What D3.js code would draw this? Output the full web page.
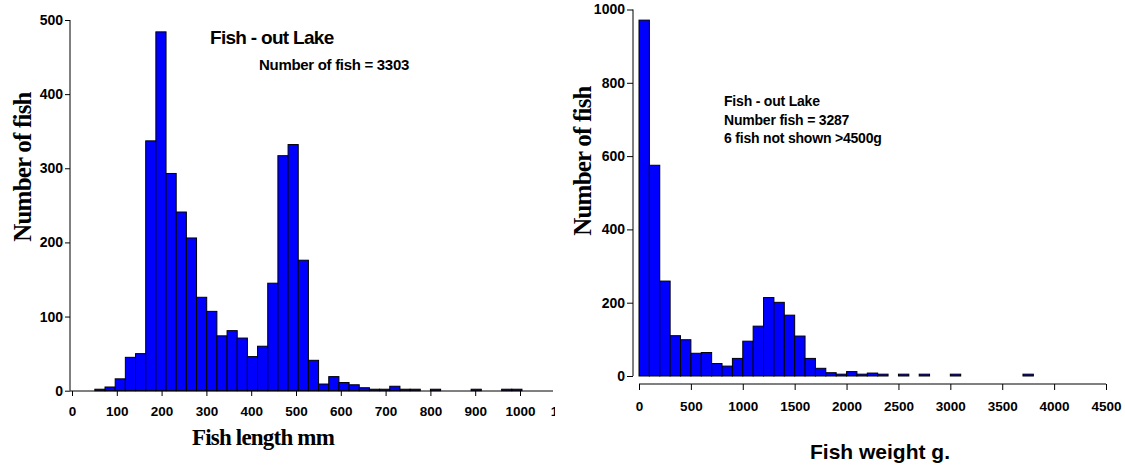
<!DOCTYPE html>
<html>
<head>
<meta charset="utf-8">
<script src="https://cdnjs.cloudflare.com/ajax/libs/d3/7.8.5/d3.min.js"></script>
<style>
  body { margin: 0; background: #fff; }
  text { font-family: "Liberation Sans", Arial, sans-serif; font-weight: bold; fill: #000; }
  .serif { font-family: "Liberation Serif", "Times New Roman", serif; }
</style>
</head>
<body>
<div id="chart"></div>
<script>
// Fish length histogram (mm)
var lengthBinStart = 51;
var lengthBinWidth = 22.7;
var lengthCounts = [2, 5, 16, 45, 50, 337, 484, 293, 241, 206, 126, 107, 74, 81, 71, 46, 60, 145, 317, 332,
                    176, 41, 9, 19, 11, 8, 4, 2, 2, 6, 2, 2, 0, 2, 0, 0, 0, 2, 0, 0, 2, 2];
var lengthTicks = [0, 100, 200, 300, 400, 500, 600, 700, 800, 900, 1000, 1100];
var lengthCountTicks = [0, 100, 200, 300, 400, 500];

// Fish weight histogram (g)
var weightBinStart = 0;
var weightBinWidth = 100;
var weightCounts = [971, 575, 259, 110, 99, 62, 64, 34, 27, 48, 95, 136, 214, 201, 166, 109, 48, 21, 9, 5,
                    12, 5, 8, 5, 0, 5, 0, 5, 0, 0, 5, 0, 0, 0, 0, 0, 0, 5];
var weightTicks = [0, 500, 1000, 1500, 2000, 2500, 3000, 3500, 4000, 4500];
var weightCountTicks = [0, 200, 400, 600, 800, 1000];

var Histogram = function(svg, cfg)
{
  this.svg = svg;
  this.cfg = cfg;
  this.g = svg.append("g");
  if(cfg.clipRight)
  {
    var id = "clip" + cfg.name;
    svg.append("clipPath").attr("id", id)
       .append("rect").attr("x", 0).attr("y", 0).attr("width", cfg.clipRight).attr("height", 465);
    this.g.attr("clip-path", "url(#" + id + ")");
  }
  this.x = d3.scaleLinear().domain(cfg.xDomain).range(cfg.xRange);
  this.y = d3.scaleLinear().domain(cfg.yDomain).range(cfg.yRange);
};

Histogram.prototype.drawBars = function()
{
  var self = this;
  var cfg = this.cfg;
  var bins = cfg.counts.map(function (c, i) {
    return { x0: cfg.binStart + i * cfg.binWidth, x1: cfg.binStart + (i + 1) * cfg.binWidth, count: c };
  }).filter(function (b) { return b.count > 0; });

  this.g.selectAll("rect.bar")
        .data(bins)
        .enter().append("rect")
        .attr("class", "bar")
        .attr("x", function (b) { return self.x(b.x0); })
        .attr("width", function (b) { return self.x(b.x1) - self.x(b.x0); })
        .attr("y", function (b) { return self.y(b.count); })
        .attr("height", function (b) { return self.y(0) - self.y(b.count); })
        .attr("fill", "#0000ff")
        .attr("stroke", "#000")
        .attr("stroke-width", 1);
}

Histogram.prototype.drawAxes = function()
{
  var cfg = this.cfg;
  var fmt = d3.format("d");

  // y axis
  var yg = this.g.append("g").attr("transform", "translate(" + cfg.yAxisX + ",0)");
  yg.call(d3.axisLeft(this.y).tickValues(cfg.yMinor).tickSize(3).tickFormat(""));
  yg.call(d3.axisLeft(this.y).tickValues(cfg.yTicks).tickSize(cfg.yTickSize).tickPadding(2).tickFormat(fmt));
  yg.selectAll(".domain").remove();
  yg.selectAll("text").style("font-size", cfg.yFont + "px");
  yg.append("line")
    .attr("x1", 0).attr("x2", 0)
    .attr("y1", this.y(cfg.yDomain[1])).attr("y2", this.y(0))
    .attr("stroke", "#000");

  // x axis
  var xg = this.g.append("g").attr("transform", "translate(0," + cfg.xAxisY + ")");
  xg.call(d3.axisBottom(this.x).tickValues(cfg.xMinor).tickSize(cfg.xMinorSize).tickFormat(""));
  xg.call(d3.axisBottom(this.x).tickValues(cfg.xTicks).tickSize(cfg.xTickSize).tickPadding(cfg.xPad).tickFormat(fmt));
  xg.selectAll(".domain").remove();
  xg.selectAll("text").style("font-size", "13.5px");
  xg.append("line")
    .attr("x1", cfg.xLineStart).attr("x2", cfg.xLineEnd)
    .attr("y1", 0).attr("y2", 0)
    .attr("stroke", "#000");

  this.g.selectAll(".tick line").attr("stroke", "#000");
}

Histogram.prototype.drawLabels = function()
{
  var self = this;
  var cfg = this.cfg;
  var yt = cfg.yTitle;
  this.svg.append("text")
          .attr("class", yt.cls)
          .attr("transform", "translate(" + yt.x + "," + yt.y + ") rotate(-90)")
          .attr("text-anchor", "middle")
          .style("font-size", yt.size + "px")
          .style("letter-spacing", yt.spacing + "px")
          .text(yt.text);

  var xt = cfg.xTitle;
  this.svg.append("text")
          .attr("class", xt.cls)
          .attr("x", xt.x).attr("y", xt.y)
          .attr("text-anchor", "middle")
          .style("font-size", xt.size + "px")
          .style("letter-spacing", xt.spacing + "px")
          .text(xt.text);

  cfg.notes.forEach(function (n) {
    self.svg.append("text")
            .attr("x", n.x).attr("y", n.y)
            .style("font-size", n.size + "px")
            .style("letter-spacing", n.spacing + "px")
            .text(n.text);
  });
}

var svg = d3.select("#chart").append("svg")
            .attr("width", 1125)
            .attr("height", 465);

var lengthChart = new Histogram(svg, {
  name: "Length",
  clipRight: 555,
  counts: lengthCounts,
  binStart: lengthBinStart,
  binWidth: lengthBinWidth,
  xDomain: [0, 1000], xRange: [72, 520],
  yDomain: [0, 500], yRange: [390.7, 20],
  yAxisX: 70, yTicks: lengthCountTicks, yMinor: d3.range(0, 501, 25), yTickSize: 5, yFont: 14,
  xAxisY: 391, xTicks: lengthTicks, xMinor: d3.range(0, 1101, 50), xTickSize: 5, xMinorSize: 3, xPad: 10,
  xLineStart: 70, xLineEnd: 553,
  yTitle: { text: "Number of fish", x: 31, y: 167, size: 25, spacing: -0.8, cls: "serif" },
  xTitle: { text: "Fish length mm", x: 263, y: 445, size: 23, spacing: -0.8, cls: "serif" },
  notes: [
    { text: "Fish - out Lake", x: 210, y: 44, size: 19, spacing: -0.7 },
    { text: "Number of fish = 3303", x: 259, y: 70, size: 15, spacing: -0.3 }
  ]
});
lengthChart.drawBars();
lengthChart.drawAxes();
lengthChart.drawLabels();

var weightChart = new Histogram(svg, {
  name: "Weight",
  counts: weightCounts,
  binStart: weightBinStart,
  binWidth: weightBinWidth,
  xDomain: [0, 4500], xRange: [639, 1106],
  yDomain: [0, 1000], yRange: [376, 9.5],
  yAxisX: 633, yTicks: weightCountTicks, yMinor: d3.range(0, 1001, 50), yTickSize: 6, yFont: 14,
  xAxisY: 384, xTicks: weightTicks, xMinor: d3.range(0, 4501, 100), xTickSize: 6, xMinorSize: 4, xPad: 11,
  xLineStart: 639, xLineEnd: 1106,
  yTitle: { text: "Number of fish", x: 591, y: 161, size: 25, spacing: -0.8, cls: "serif" },
  xTitle: { text: "Fish weight g.", x: 880, y: 459, size: 21, spacing: 0, cls: "" },
  notes: [
    { text: "Fish - out Lake", x: 724, y: 106, size: 14, spacing: -0.2 },
    { text: "Number fish = 3287", x: 724, y: 125, size: 14, spacing: -0.2 },
    { text: "6 fish not shown >4500g", x: 724, y: 143, size: 14, spacing: -0.2 }
  ]
});
weightChart.drawBars();
weightChart.drawAxes();
weightChart.drawLabels();
</script>
</body>
</html>
